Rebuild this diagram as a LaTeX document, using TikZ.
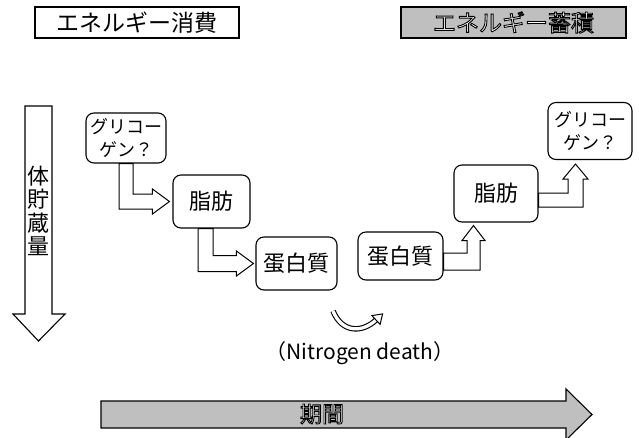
\documentclass[tikz,border=0pt]{standalone}
\usepackage{fontspec}
\newfontfamily\jp{Noto Sans CJK JP}
\usetikzlibrary{calc}
\newcommand{\outl}[1]{\special{pdf:literal direct 2 Tr 0.9 w 0 G 1 g}#1\special{pdf:literal direct 0 Tr 0 g 0 G}}
\begin{document}
\begin{tikzpicture}[x=1pt,y=-1pt,
  box/.style={draw, line width=1.1, rounded corners=8, align=center, inner sep=0,
    font=\jp\fontsize{22}{24}\selectfont},
  gbox/.style={box, font=\jp\fontsize{18}{23}\selectfont},
  hollow/.style={draw, line width=1, fill=white, line join=miter},
  titlebox/.style={draw, line width=1.1, inner sep=0, minimum height=31,
    font=\jp\fontsize{23}{23}\selectfont},
  graybar/.style={draw, line width=1.1, fill=gray!50, line join=miter}
]
\useasboundingbox (0,0) rectangle (639,437);

% title boxes
\node[titlebox, minimum width=204] (cons) at (137,22.5) {エネルギー消費};
\begin{scope}
\node[titlebox, minimum width=225, fill=gray!50] (stor) at (513.5,22.5) {\outl{エネルギー蓄積}};
\end{scope}

% left vertical arrow
\draw[hollow, line width=1.1] (25,106) -- (25,314) -- (13,314) -- (38.5,341) -- (65,314) -- (52,314) -- (52,106) -- cycle;
\node[align=center, inner sep=0, font=\jp\fontsize{22}{23.5}\selectfont] (vol) at (38.5,211) {体\\貯\\蔵\\量};

% boxes
\node[gbox, minimum width=80, minimum height=50] (g1) at (126,138) {グリコー\\ゲン？};
\node[box, minimum width=77, minimum height=53] (f1) at (211.5,201.5) {脂肪};
\node[box, minimum width=81, minimum height=53] (p1) at (296.5,263.5) {蛋白質};
\node[box, minimum width=85, minimum height=48] (p2) at (400.5,256) {蛋白質};
\node[box, minimum width=84, minimum height=57] (f2) at (496,193.5) {脂肪};
\node[gbox, minimum width=84, minimum height=57] (g2) at (590,131) {グリコー\\ゲン？};

% bent hollow arrows
\path[hollow] ($(g1.south)+(-7,0)$) |- ($(f1.west)+(-20,7.5)$) -- ($(f1.west)+(-20,12.5)$)
  -- ($(f1.west)+(-3,0)$) -- ($(f1.west)+(-20,-12.5)$) -- ($(f1.west)+(-20,-7.5)$)
  -| ($(g1.south)+(7,0)$) -- cycle;
\path[hollow] ($(f1.south)+(-13.5,0)$) |- ($(p1.west)+(-19,8)$) -- ($(p1.west)+(-19,12.5)$)
  -- ($(p1.west)+(-2,0)$) -- ($(p1.west)+(-19,-12.5)$) -- ($(p1.west)+(-19,-8)$)
  -| ($(f1.south)+(1.5,0)$) -- cycle;
\path[hollow] ($(p2.east)+(0,-3)$) -| ($(f2.south)+(-29,18)$) -- ($(f2.south)+(-34,18)$)
  -- ($(f2.south)+(-22.5,3)$) -- ($(f2.south)+(-11,18)$) -- ($(f2.south)+(-16,18)$)
  |- ($(p2.east)+(0,14)$) -- cycle;
\path[hollow] ($(f2.east)+(0,-0.5)$) -| ($(g2.south)+(-22,19)$) -- ($(g2.south)+(-27,19)$)
  -- ($(g2.south)+(-14.5,4)$) -- ($(g2.south)+(-2,19)$) -- ($(g2.south)+(-7,19)$)
  |- ($(f2.east)+(0,13.5)$) -- cycle;

% curved hollow arrow
\draw[line width=5.5, line cap=butt] (333,311) .. controls (342,333) and (362,333) .. (376,320);
\draw[line width=3.3, white, line cap=butt] (333,311) .. controls (342,333) and (362,333) .. (376,320);
\draw[hollow, line width=1] (380.1,324.4) -- (382.6,313.9) -- (371.9,315.6) -- cycle;
\node[inner sep=0, font=\jp\fontsize{21}{21}\selectfont] (nd) at (360,353) {（Nitrogen death）};

% bottom period arrow
\draw[graybar] (101,401) -- (566,401) -- (566,389) -- (592,414.5) -- (566,440) -- (566,428) -- (101,428) -- cycle;
\begin{scope}
\node[inner sep=0, font=\jp\fontsize{22}{22}\selectfont] (per) at (322,414) {\outl{期間}};
\end{scope}
\end{tikzpicture}
\end{document}
